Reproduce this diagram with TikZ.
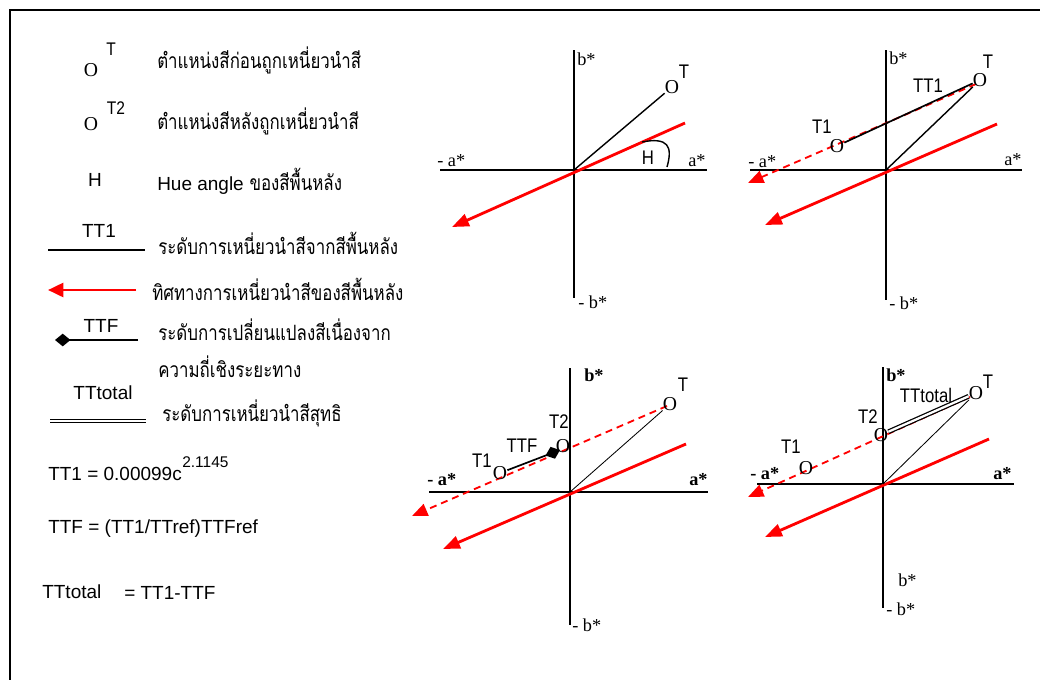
\documentclass[tikz,border=0pt]{standalone}
\usepackage{fontspec}
\setmainfont{Liberation Sans}
\newfontfamily\thaifont[Script=Thai, FakeStretch=0.8]{Loma}
\newfontfamily\romanfont{Liberation Serif}
\newfontfamily\narrowfont[FakeStretch=0.85]{Liberation Sans}
\usetikzlibrary{arrows.meta}

\begin{document}
\begin{tikzpicture}[
    x=0.025cm, y=-0.025cm,
    frame/.style={draw, line width=1.4pt},
    axis/.style={draw, line width=1.3pt},
    bgdir/.style={draw=red, line width=2pt, -{Triangle[length=12pt, width=9pt]}},
    shiftdir/.style={draw=red, line width=1.3pt, dash pattern=on 5pt off 3.5pt, -{Triangle[length=11pt, width=9pt]}},
    tt1/.style={draw, line width=1.2pt},
    vec/.style={draw, line width=1pt},
    fineline/.style={draw, line width=0.6pt},
    ttf/.style={draw, line width=1.2pt, -{Diamond[length=11pt, width=9pt]}},
    total/.style={draw, line width=0.9pt, double, double distance=1.6pt},
    mk/.style={font=\romanfont\fontsize{14}{14}\selectfont, inner sep=0pt},
    keymk/.style={font=\romanfont\fontsize{14}{14}\selectfont, inner sep=0pt},
    axlbl/.style={font=\romanfont\fontsize{13}{13}\selectfont, inner sep=0pt, anchor=west},
    axbold/.style={axlbl, font=\romanfont\bfseries\fontsize{13}{13}\selectfont},
    lbl/.style={font=\narrowfont\fontsize{14}{14}\selectfont, inner sep=0pt},
    suplbl/.style={font=\narrowfont\fontsize{13}{13}\selectfont, inner sep=0pt},
    key/.style={font=\fontsize{13.5}{14}\selectfont, inner sep=0pt},
    formula/.style={key, anchor=west},
    desc/.style={font=\thaifont\fontsize{15}{16}\selectfont, inner sep=0pt, anchor=west},
]
\useasboundingbox (0,0) rectangle (1040,680);
\draw[frame] (1040,10) -| (10,680);

% legend
\node[keymk] (kO) at (91,70) {O};
\node[suplbl] (kOsup) at (111,49) {T};
\node[desc] (kd1) at (157,60) {ตำแหน่งสีก่อนถูกเหนี่ยวนำสี};
\node[keymk] (kOtwo) at (91,124) {O};
\node[suplbl] (kOtwosup) at (116,108) {T2};
\node[desc] (kd2) at (157,121) {ตำแหน่งสีหลังถูกเหนี่ยวนำสี};
\node[key] (kH) at (95,180) {H};
\node[desc] (kd3) at (157,181) {{\normalfont\fontsize{13.5}{14}\selectfont Hue angle} ของสีพื้นหลัง};
\node[key] (kTT1) at (99,231) {TT1};
\coordinate (k4a) at (48,250); \coordinate (k4b) at (145,250);
\draw[tt1] (k4a) -- (k4b);
\node[desc] (kd4) at (158,243) {ระดับการเหนี่ยวนำสีจากสีพื้นหลัง};
\coordinate (k5a) at (136,290); \coordinate (k5b) at (48,290);
\draw[bgdir, -{Triangle[length=11pt, width=10pt]}] (k5a) -- (k5b);
\node[desc] (kd5) at (152,289) {ทิศทางการเหนี่ยวนำสีของสีพื้นหลัง};
\node[key] (kTTF) at (101,326) {TTF};
\coordinate (k6a) at (138,340); \coordinate (k6b) at (55,340);
\draw[ttf] (k6a) -- (k6b);
\node[desc] (kd6) at (158,330) {ระดับการเปลี่ยนแปลงสีเนื่องจาก};
\node[desc] (kd6b) at (158,367) {ความถี่เชิงระยะทาง};
\node[key] (kTTtotal) at (103,393) {TTtotal};
\coordinate (k7a) at (50,421); \coordinate (k7b) at (146,421);
\draw[total] (k7a) -- (k7b);
\node[desc] (kd7) at (162,413) {ระดับการเหนี่ยวนำสีสุทธิ};

% formulas
\node[formula] (f1) at (48,474) {TT1 = 0.00099c};
\node[font=\fontsize{11}{11}\selectfont, inner sep=0pt, anchor=west] (f1sup) at (f1.east |- 0,462) {2.1145};
\node[formula] (f2) at (48,529) {TTF = (TT1/TTref)TTFref};
\node[formula] (f3) at (42,592) {TTtotal};
\node[formula] (f3b) at (124,593) {= TT1-TTF};

% panel 1: hue angle
\coordinate (o1) at (574,170);
\coordinate (w1) at (440,170); \coordinate (e1) at (707,170);
\coordinate (n1) at (574,50); \coordinate (s1) at (574,298);
\draw[axis] (w1) -- (e1);
\draw[axis] (n1) -- (s1);
\node[axlbl] at (577,59) {b*};
\node[axlbl] at (578,302) {- b*};
\node[axlbl] at (437,161) {- a*};
\node[axlbl] at (688,161) {a*};
\node[mk] (pT1) at (672,87) {O};
\node[lbl] at (684,72) {T};
\draw[vec] (o1) -- (pT1);
\coordinate (r1a) at (685,123); \coordinate (r1b) at (452,227);
\draw[bgdir] (r1a) -- (r1b);
\draw[vec] (642,142) .. controls (668,137) and (673,146) .. (667,167);
\node[lbl] (hue) at (648,158) {H};

% panel 2: TT1
\coordinate (o2) at (886,170);
\coordinate (w2) at (750,170); \coordinate (e2) at (1022,170);
\coordinate (n2) at (886,50); \coordinate (s2) at (886,300);
\draw[axis] (w2) -- (e2);
\draw[axis] (n2) -- (s2);
\node[axlbl] at (889,58) {b*};
\node[axlbl] at (889,303) {- b*};
\node[axlbl] at (748,162) {- a*};
\node[axlbl] at (1004,160) {a*};
\coordinate (r2a) at (997,124); \coordinate (r2b) at (765,225);
\draw[bgdir] (r2a) -- (r2b);
\coordinate (d2a) at (976,84); \coordinate (d2b) at (748,183);
\draw[shiftdir] (d2a) -- (d2b);
\node[mk] (pT2) at (980,80) {O};
\node[lbl] at (988,62) {T};
\node[mk] (pT2one) at (837,146) {O};
\node[lbl] at (822,127) {T1};
\draw[tt1] (pT2one) -- (pT2);
\node[lbl] at (928,86) {TT1};
\draw[vec] (pT2) -- (o2);

% panel 3: TTF
\coordinate (o3) at (570,492);
\coordinate (w3) at (429,492); \coordinate (e3) at (708,492);
\coordinate (n3) at (570,368); \coordinate (s3) at (570,625);
\draw[axis] (w3) -- (e3);
\draw[axis] (n3) -- (s3);
\node[axbold] at (584,375) {b*};
\node[axlbl] at (572,625) {- b*};
\node[axbold] at (427,480) {- a*};
\node[axbold] at (689,480) {a*};
\coordinate (r3a) at (686,444); \coordinate (r3b) at (443,549);
\draw[bgdir] (r3a) -- (r3b);
\coordinate (d3a) at (667,406); \coordinate (d3b) at (412,516);
\draw[shiftdir] (d3a) -- (d3b);
\node[mk] (pT3) at (670,404) {O};
\node[lbl] at (683,385) {T};
\draw[fineline] (o3) -- (pT3);
\node[mk] (pT3two) at (563,446) {O};
\node[lbl] at (559,422) {T2};
\node[mk] (pT3one) at (500,473) {O};
\node[lbl] at (482,461) {T1};
\coordinate (dm3) at (560,450);
\draw[ttf] (pT3one) -- (dm3);
\node[lbl] at (522,446) {TTF};

% panel 4: TTtotal
\coordinate (o4) at (883,484);
\coordinate (w4) at (757,484); \coordinate (e4) at (1014,484);
\coordinate (n4) at (883,367); \coordinate (s4) at (883,608);
\draw[axis] (w4) -- (e4);
\draw[axis] (n4) -- (s4);
\node[axbold] at (886,375) {b*};
\node[axlbl] at (898,580) {b*};
\node[axlbl] at (886,609) {- b*};
\node[axbold] at (750,474) {- a*};
\node[axbold] at (993,474) {a*};
\coordinate (r4a) at (989,439); \coordinate (r4b) at (765,537);
\draw[bgdir] (r4a) -- (r4b);
\coordinate (d4a) at (970,397); \coordinate (d4b) at (748,497);
\draw[shiftdir] (d4a) -- (d4b);
\node[mk] (pT4) at (976,393) {O};
\node[lbl] at (988,382) {T};
\draw[fineline] (pT4) -- (o4);
\node[mk] (pT4two) at (881,435) {O};
\node[lbl] at (868,417) {T2};
\node[mk] (pT4one) at (806,468) {O};
\node[lbl] at (791,447) {T1};
\draw[total] (pT4two) -- (pT4);
\node[lbl] at (926,395) {TTtotal};

\end{tikzpicture}
\end{document}
